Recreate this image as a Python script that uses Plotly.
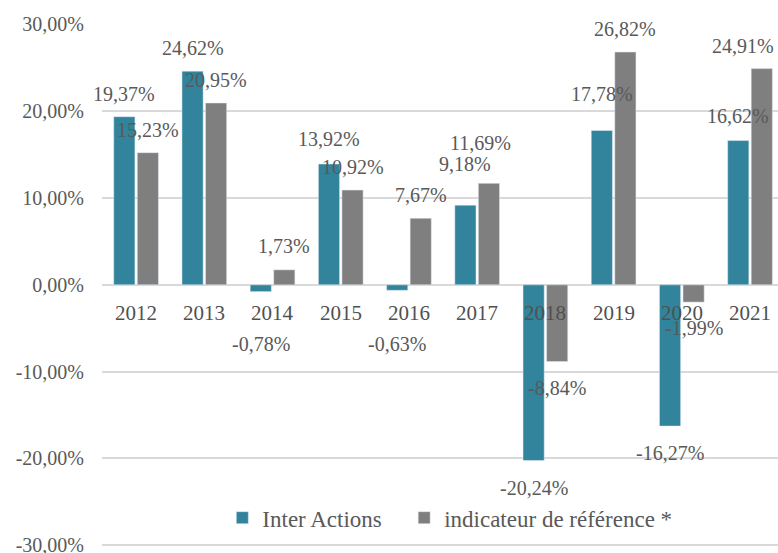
import plotly.graph_objects as go

years = ["2012", "2013", "2014", "2015", "2016", "2017", "2018", "2019", "2020", "2021"]
inter_actions = [19.37, 24.62, -0.78, 13.92, -0.63, 9.18, -20.24, 17.78, -16.27, 16.62]
indicateur = [15.23, 20.95, 1.73, 10.92, 7.67, 11.69, -8.84, 26.82, -1.99, 24.91]
series_names = ["Inter Actions", "indicateur de référence *"]
y_ticks = [-30, -20, -10, 0, 10, 20, 30]

# label pixel offsets from bar end / horizontal nudges (style only)
off_blue = [23, 23, 52, 25, 54, 41, 27, 37, 27, 25]
off_gray = [23, 23, 24, 23, 23, 40, 26, 23, 26, 23]
dx_blue = [0, 0, 0, 0, 0, 0, 0, 0, 0, 0]
dx_gray = [0, 0, 0, 0, 0, -8, 0, 0, 0, -19]

BLUE = "#31849B"
GRAY = "#7F7F7F"
TXT = "#595959"
FONT = "Liberation Serif"

def fmt(v):
    return f"{v:.2f}".replace(".", ",") + "%"

fig = go.Figure()
fig.add_trace(go.Bar(x=years, y=inter_actions, name=series_names[0], marker_color=BLUE,
                     legend="legend", showlegend=True))
fig.add_trace(go.Bar(x=years, y=indicateur, name=series_names[1], marker_color=GRAY,
                     legend="legend2", showlegend=True))

bargap = 0.31
groupgap = 0.1
half = (1 - bargap) / 4

ann = []
for i, y in enumerate(years):
    for vals, offs, xs, dx in ((inter_actions, off_blue, dx_blue, -half),
                               (indicateur, off_gray, dx_gray, half)):
        v = vals[i]
        s = offs[i] if v >= 0 else -offs[i]
        ann.append(dict(x=i + dx, y=v, xref="x", yref="y", text=fmt(v), showarrow=False,
                        yshift=s, xshift=xs[i], font=dict(family=FONT, size=20, color=TXT)))
    ann.append(dict(x=i, y=0, xref="x", yref="y", text=y, showarrow=False, yshift=-28,
                    font=dict(family=FONT, size=21, color="#505050")))

leg_common = dict(orientation="h", y=0.056, xanchor="left", yanchor="middle",
                  font=dict(family=FONT, size=23, color=TXT), bgcolor="rgba(0,0,0,0)",
                  visible=True)

fig.update_layout(
    width=778, height=553,
    margin=dict(l=102, r=0, t=24, b=6, autoexpand=False),
    showlegend=True,
    paper_bgcolor="white", plot_bgcolor="white",
    barmode="group", bargap=bargap, bargroupgap=groupgap,
    font=dict(family=FONT, color=TXT),
    xaxis=dict(range=[-0.5, 9.41], showticklabels=False, showgrid=False, zeroline=False,
               showline=False, fixedrange=True, automargin=False),
    yaxis=dict(range=[-30.2, 30.05], tickvals=y_ticks, ticktext=[fmt(v) for v in y_ticks],
               showgrid=True, gridcolor="#D9D9D9", gridwidth=1.5, zeroline=True,
               zerolinecolor="#D9D9D9", zerolinewidth=2, ticks="", ticklabelstandoff=17,
               ticklabeloverflow="allow", automargin=False,
               tickfont=dict(family=FONT, size=20, color=TXT), fixedrange=True),
    legend=dict(x=0.178, **leg_common),
    legend2=dict(x=0.447, **leg_common),
    annotations=ann,
)

fig.write_html("out.html", config={"displayModeBar": False},
               post_script="document.body.style.margin='0';document.body.style.overflow='hidden';")
